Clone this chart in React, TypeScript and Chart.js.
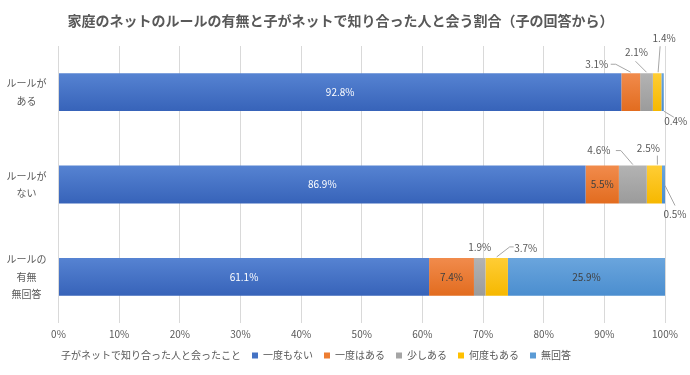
import React, { useEffect, useRef } from "react";
import { Chart, registerables } from "chart.js";

Chart.register(...registerables);

const title = "家庭のネットのルールの有無と子がネットで知り合った人と会う割合（子の回答から）";
const categories = [["ルールが", "ある"], ["ルールが", "ない"], ["ルールの", "有無", "無回答"]];
const legendTitle = "子がネットで知り合った人と会ったこと";
const seriesNames = ["一度もない", "一度はある", "少しある", "何度もある", "無回答"];
const neverMet = [92.8, 86.9, 61.1];
const metOnce = [3.1, 5.5, 7.4];
const metSome = [2.1, 4.6, 1.9];
const metMany = [1.4, 2.5, 3.7];
const noAnswer = [0.4, 0.5, 25.9];
const xMax = 100;
const xStep = 10;

const flatColors = ["#4472C4", "#ED7D31", "#A5A5A5", "#FFC000", "#5B9BD5"];
const gradColors = [
  ["#5683d2", "#3763b9"],
  ["#f18b4c", "#e26c1f"],
  ["#b3b3b3", "#9b9b9b"],
  ["#ffcd35", "#f6b800"],
  ["#6aa5dd", "#4b8ecf"],
];
const labelColors = ["#ffffff", "#404040", "#404040", "#404040", "#404040"];
const BAR_FRACTION = 0.41;

const outside: Record<string, { anchor: "top" | "end"; tx: number; ty: number; line?: number[][] }> = {
  "1-0": { anchor: "top", tx: -34, ty: -9, line: [[-20, -9], [-15, -9], [0, -1]] },
  "2-0": { anchor: "top", tx: -10, ty: -21, line: [[-11, -12], [0, -1]] },
  "3-0": { anchor: "top", tx: 7, ty: -35, line: [[3, -27], [1, -1]] },
  "4-0": { anchor: "end", tx: 12, ty: 29, line: [[0, 19], [10, 25]] },
  "2-1": { anchor: "top", tx: -34, ty: -15, line: [[-17, -15], [-12, -15], [0, -1]] },
  "3-1": { anchor: "top", tx: -6, ty: -17, line: [[3, -10], [3, -1]] },
  "4-1": { anchor: "end", tx: 10, ty: 30, line: [[0, 1], [10, 21]] },
  "2-2": { anchor: "top", tx: 0, ty: -11 },
  "3-2": { anchor: "top", tx: 29, ty: -10, line: [[17, -11], [13, -11], [0, -1]] },
};

const FONT = "'Noto Sans CJK JP', 'Noto Sans', sans-serif";
const TEXT = "#595959";

function gradient(i: number) {
  return (ctx: any) => {
    const chart = ctx.chart;
    const y = chart.scales && chart.scales.y;
    if (!chart.chartArea || !y || ctx.type !== "data") return flatColors[i];
    const c = y.getPixelForValue(ctx.dataIndex);
    const half = ((y.height / categories.length) * BAR_FRACTION) / 2;
    const g = chart.ctx.createLinearGradient(0, c - half, 0, c + half);
    g.addColorStop(0, gradColors[i][0]);
    g.addColorStop(1, gradColors[i][1]);
    return g;
  };
}

const labelPlugin = {
  id: "barLabels",
  afterDatasetsDraw(chart: any) {
    const ctx = chart.ctx;
    ctx.save();
    ctx.font = `10px ${FONT}`;
    ctx.textAlign = "center";
    ctx.textBaseline = "middle";
    chart.data.datasets.forEach((ds: any, i: number) => {
      const meta = chart.getDatasetMeta(i);
      meta.data.forEach((el: any, j: number) => {
        const v = ds.data[j];
        const text = v.toFixed(1) + "%";
        const cx = (el.x + el.base) / 2;
        if (v >= 5) {
          ctx.fillStyle = labelColors[i];
          ctx.fillText(text, cx, el.y);
          return;
        }
        const cfg = outside[`${i}-${j}`];
        if (!cfg) return;
        const ox = cfg.anchor === "top" ? cx : el.x;
        const oy = cfg.anchor === "top" ? el.y - el.height / 2 : el.y;
        if (cfg.line) {
          ctx.strokeStyle = "#a6a6a6";
          ctx.lineWidth = 1;
          ctx.beginPath();
          cfg.line.forEach((p, k) => {
            if (k === 0) ctx.moveTo(ox + p[0], oy + p[1]);
            else ctx.lineTo(ox + p[0], oy + p[1]);
          });
          ctx.stroke();
        }
        ctx.fillStyle = TEXT;
        ctx.fillText(text, ox + cfg.tx, oy + cfg.ty);
      });
    });
    ctx.restore();
  },
};

const blockShift = {
  id: "blockShift",
  afterLayout(chart: any) {
    const l = chart.legend;
    if (l) {
      l.left -= 22;
      l.right -= 22;
      if (l.adjustHitBoxes) l.adjustHitBoxes();
    }
    const t = chart.titleBlock;
    if (t) {
      t.left += 8;
      t.right += 8;
    }
  },
};

export default function App() {
  const ref = useRef<HTMLCanvasElement>(null);
  useEffect(() => {
    document.body.style.margin = "0";
    const series = [neverMet, metOnce, metSome, metMany, noAnswer];
    const chart = new Chart(ref.current as HTMLCanvasElement, {
      type: "bar",
      data: {
        labels: categories as any,
        datasets: series.map((d, i) => ({
          label: seriesNames[i],
          data: d,
          backgroundColor: gradient(i) as any,
          borderWidth: 0,
          categoryPercentage: 1,
          barPercentage: BAR_FRACTION,
        })),
      },
      options: {
        indexAxis: "y",
        animation: false,
        responsive: false,
        maintainAspectRatio: false,
        layout: { padding: { left: 0, right: 25, top: 0, bottom: 4.5 } },
        scales: {
          x: {
            stacked: true,
            min: 0,
            max: xMax,
            ticks: {
              stepSize: xStep,
              callback: (v: any) => v + "%",
              color: TEXT,
              font: { size: 10, family: FONT },
              padding: 5,
            },
            grid: { color: "#d9d9d9", drawTicks: false },
            border: { display: false },
            afterFit: (s: any) => {
              s.height = 16.5;
            },
          },
          y: {
            stacked: true,
            ticks: {
              color: TEXT,
              font: { size: 10, family: FONT, lineHeight: 1.75 },
              crossAlign: "center",
              padding: 4,
            },
            grid: { display: false },
            border: { display: false },
            afterFit: (s: any) => {
              s.width = 58.5;
            },
          },
        },
        plugins: {
          title: {
            display: true,
            text: title,
            color: TEXT,
            font: { size: 14, weight: "bold", family: FONT },
            padding: { top: 12, bottom: 17.2 },
          },
          tooltip: { enabled: false },
          legend: {
            position: "bottom",
            labels: {
              color: TEXT,
              font: { size: 10, family: FONT },
              boxWidth: 6,
              boxHeight: 6,
              padding: 11,
              generateLabels: () => {
                const items = seriesNames.map((n, i) => ({
                  text: n,
                  fillStyle: flatColors[i],
                  strokeStyle: flatColors[i],
                  lineWidth: 0,
                  hidden: false,
                  datasetIndex: i,
                  fontColor: TEXT,
                }));
                return [
                  {
                    text: legendTitle,
                    fillStyle: "rgba(0,0,0,0)",
                    strokeStyle: "rgba(0,0,0,0)",
                    lineWidth: 0,
                    hidden: false,
                    datasetIndex: -1,
                    fontColor: TEXT,
                  },
                  ...items,
                ] as any;
              },
            },
          },
        },
      },
      plugins: [labelPlugin, blockShift],
    });
    return () => chart.destroy();
  }, []);
  return (
    <div style={{ width: 690, height: 375 }}>
      <canvas ref={ref} width={690} height={375} style={{ width: 690, height: 375 }} />
    </div>
  );
}
